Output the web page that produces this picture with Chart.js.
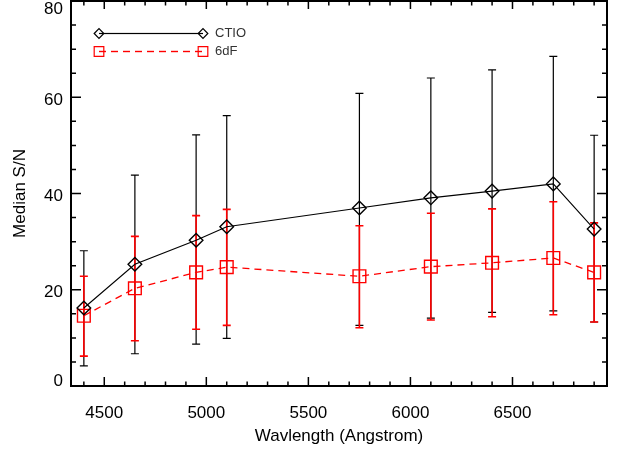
<!DOCTYPE html>
<html>
<head>
<meta charset="utf-8">
<script src="https://cdn.jsdelivr.net/npm/chart.js@4"></script>
<style>
html,body{margin:0;padding:0;background:#fff;}
#c{display:block;}
</style>
</head>
<body>
<canvas id="c" width="617" height="452"></canvas>
<script>
// ---- data ----
const wavelengths = [4400, 4650, 4950, 5100, 5750, 6100, 6400, 6700, 6900];
const ctioSN   = [16.2, 25.3, 30.3, 33.1, 37.0, 39.1, 40.5, 42.0, 32.6];
const ctioLow  = [4.2, 6.7, 8.7, 9.9, 12.6, 14.1, 15.3, 15.6, 13.3];
const ctioHigh = [28.1, 43.8, 52.2, 56.2, 60.8, 64.0, 65.7, 68.5, 52.1];
const sixdfSN   = [14.6, 20.3, 23.6, 24.7, 22.8, 24.8, 25.6, 26.6, 23.6];
const sixdfLow  = [6.2, 9.4, 11.8, 12.6, 12.1, 13.7, 14.4, 14.8, 13.3];
const sixdfHigh = [22.8, 31.1, 35.4, 36.7, 33.3, 35.9, 36.8, 38.3, 33.9];

const xMajorTicks = [4500, 5000, 5500, 6000, 6500];
const xMinorTicks = [4400, 4600, 4700, 4800, 4900, 5100, 5200, 5300, 5400, 5600, 5700, 5800, 5900, 6100, 6200, 6300, 6400, 6600, 6700, 6800, 6900];
const yMajorTicks = [0, 20, 40, 60, 80];
const yMinorTicks = [5, 10, 15, 25, 30, 35, 45, 50, 55, 65, 70, 75];

const seriesNames = ['CTIO', '6dF'];
const seriesColors = ['#000000', '#ff0000'];
const xTitle = 'Wavlength (Angstrom)';
const yTitle = 'Median S/N';

Chart.defaults.font.family = '"Liberation Sans", Arial, Helvetica, sans-serif';
Chart.defaults.color = '#000';

const toXY = (ys) => wavelengths.map((x, i) => ({x: x, y: ys[i]}));

const errorBars = {
  id: 'errorBars',
  beforeDatasetsDraw(chart) {
    const ctx = chart.ctx, xs = chart.scales.x, ys = chart.scales.y;
    const sets = [
      {lo: ctioLow, hi: ctioHigh, color: seriesColors[0], w: 1.2},
      {lo: sixdfLow, hi: sixdfHigh, color: seriesColors[1], w: 1.6}
    ];
    ctx.save();
    sets.forEach(s => {
      ctx.strokeStyle = s.color;
      ctx.lineWidth = s.w;
      wavelengths.forEach((w, i) => {
        const px = xs.getPixelForValue(w);
        const y1 = ys.getPixelForValue(s.lo[i]);
        const y2 = ys.getPixelForValue(s.hi[i]);
        ctx.beginPath();
        ctx.moveTo(px, y1); ctx.lineTo(px, y2);
        ctx.moveTo(px - 4, y1); ctx.lineTo(px + 4, y1);
        ctx.moveTo(px - 4, y2); ctx.lineTo(px + 4, y2);
        ctx.stroke();
      });
    });
    ctx.restore();
  }
};

const frame = {
  id: 'frame',
  afterDraw(chart) {
    const ctx = chart.ctx, a = chart.chartArea, xs = chart.scales.x, ys = chart.scales.y;
    ctx.save();
    ctx.strokeStyle = '#000';
    ctx.lineWidth = 1.5;
    ctx.beginPath();
    const tickX = (v, major) => {
      const p = xs.getPixelForValue(v);
      ctx.moveTo(p, a.bottom); ctx.lineTo(p, a.bottom - (major ? 9 : 4.5));
      ctx.moveTo(p, a.top); ctx.lineTo(p, a.top + (major ? 8 : 4.5));
    };
    const tickY = (v, major) => {
      const p = ys.getPixelForValue(v);
      ctx.moveTo(a.left, p); ctx.lineTo(a.left + (major ? 10 : 5), p);
      ctx.moveTo(a.right, p); ctx.lineTo(a.right - (major ? 10 : 5), p);
    };
    xMajorTicks.forEach(v => tickX(v, true));
    xMinorTicks.forEach(v => tickX(v, false));
    yMajorTicks.forEach(v => tickY(v, true));
    yMinorTicks.forEach(v => tickY(v, false));
    ctx.stroke();
    ctx.lineWidth = 2;
    ctx.strokeRect(a.left, a.top, a.right - a.left, a.bottom - a.top);
    ctx.restore();

    // legend
    const lx1 = a.left + 28, lx2 = a.left + 132, tx = a.left + 144;
    const rows = [
      {y: a.top + 32.5, dash: 0, style: 'rectRot', r: 4.8},
      {y: a.top + 50.5, dash: 7, style: 'rect', r: 6.8}
    ];
    rows.forEach((r, i) => {
      const col = seriesColors[i];
      ctx.save();
      ctx.fillStyle = col;
      if (r.dash > 0) {
        for (let x = lx1; x < lx2; x += 12) {
          ctx.fillRect(x, r.y - 0.7, Math.min(r.dash, lx2 - x), 1.4);
        }
      } else {
        ctx.fillRect(lx1, r.y - 0.6, lx2 - lx1, 1.2);
      }
      ctx.restore();
      [lx1, lx2].forEach(px => {
        ctx.save();
        ctx.setLineDash([]);
        ctx.lineWidth = 1.2;
        ctx.strokeStyle = col;
        ctx.fillStyle = 'rgba(0,0,0,0)';
        Chart.helpers.drawPoint(ctx, {pointStyle: r.style, radius: r.r, rotation: 0, borderWidth: 1.2}, px, r.y);
        ctx.restore();
      });
      ctx.save();
      ctx.fillStyle = '#333';
      ctx.font = '13px "Liberation Sans", Arial, sans-serif';
      ctx.textBaseline = 'middle';
      ctx.textAlign = 'left';
      ctx.fillText(seriesNames[i], tx, r.y);
      ctx.restore();
    });
  }
};

// per-label vertical nudges of the y tick labels (as in the original figure)
const yLabelLineHeight = v => (v === 80 ? '16px' : v === 0 ? '9px' : '6px');
const zeroPad = s => { s.paddingTop = 0; s.paddingBottom = 0; s.paddingLeft = 0; s.paddingRight = 0; };

new Chart(document.getElementById('c'), {
  type: 'scatter',
  data: {
    datasets: [
      {
        label: seriesNames[0],
        data: toXY(ctioSN),
        showLine: true,
        borderColor: seriesColors[0],
        borderWidth: 1.1,
        backgroundColor: 'rgba(0,0,0,0)',
        pointStyle: 'rectRot',
        pointRadius: 6.8,
        pointBorderWidth: 1.4,
        pointBorderColor: seriesColors[0],
        pointBackgroundColor: 'rgba(0,0,0,0)'
      },
      {
        label: seriesNames[1],
        data: toXY(sixdfSN),
        showLine: true,
        borderColor: seriesColors[1],
        borderWidth: 1.3,
        borderDash: [7, 5],
        backgroundColor: 'rgba(0,0,0,0)',
        pointStyle: 'rect',
        pointRadius: 9,
        pointBorderWidth: 1.4,
        pointBorderColor: seriesColors[1],
        pointBackgroundColor: 'rgba(0,0,0,0)'
      }
    ]
  },
  options: {
    responsive: false,
    animation: false,
    devicePixelRatio: 1,
    layout: {autoPadding: false, padding: {top: 1, right: 10, left: 0, bottom: 0}},
    plugins: {legend: {display: false}, tooltip: {enabled: false}},
    scales: {
      x: {
        type: 'linear',
        min: 4337, max: 6963,
        afterBuildTicks: s => { s.ticks = xMajorTicks.map(v => ({value: v})); },
        afterFit: s => { s.height = 66; zeroPad(s); },
        grid: {display: false, drawTicks: false},
        border: {display: false},
        ticks: {autoSkip: false, maxRotation: 0, padding: 17, font: {size: 17}, color: '#000',
                callback: v => String(v)},
        title: {display: true, text: xTitle, font: {size: 17}, color: '#000', padding: {top: 5, bottom: 5}}
      },
      y: {
        type: 'linear',
        min: 0, max: 80,
        afterBuildTicks: s => { s.ticks = yMajorTicks.map(v => ({value: v})); },
        afterFit: s => { s.width = 71; zeroPad(s); },
        grid: {display: false, drawTicks: false},
        border: {display: false},
        ticks: {autoSkip: false, padding: 8, color: '#000',
                font: c => ({size: 17, lineHeight: yLabelLineHeight(c.tick ? c.tick.value : -1)}),
                callback: v => (v === 0 ? [String(v), ''] : ['', String(v)])},
        title: {display: true, text: yTitle, font: {size: 17}, color: '#000', padding: {top: 10, bottom: 10}}
      }
    }
  },
  plugins: [errorBars, frame]
});
</script>
</body>
</html>
